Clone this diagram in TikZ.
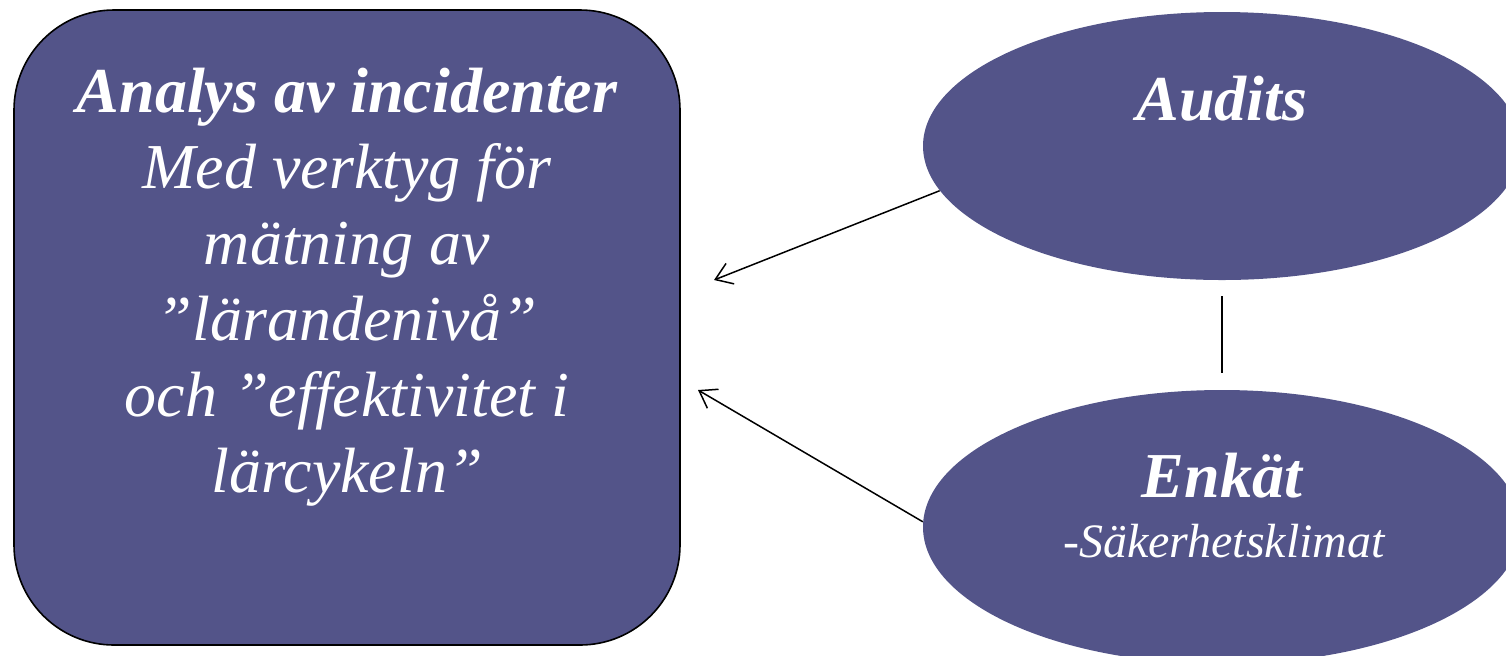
\documentclass[tikz,border=0pt]{standalone}
\usepackage{fontspec}
\setmainfont{Liberation Serif}
\usetikzlibrary{shapes.geometric,arrows.meta}
\definecolor{boxfill}{RGB}{83,84,137}
\begin{document}
\begin{tikzpicture}[x=0.5pt,y=-0.5pt,
  boxshape/.style={draw=black,line width=0.8pt,fill=boxfill,rounded corners=50pt,minimum width=333pt,minimum height=317.5pt,inner sep=0pt},
  ovalshape/.style={ellipse,fill=boxfill,minimum width=299pt,minimum height=134pt,inner sep=0pt},
  bigtxt/.style={text=white,font=\fontsize{32}{38}\selectfont\itshape,align=center,inner sep=0pt},
  smalltxt/.style={text=white,font=\fontsize{24}{28}\selectfont\itshape,inner sep=0pt},
  conn/.style={line width=0.75pt,draw=black},
  arr/.style={conn,-{Straight Barb[length=8pt,width=11pt]}}
]
\useasboundingbox (0,0) rectangle (1506,655);
\clip (0,0) rectangle (1506,655);
\node[boxshape] (box) at (347,327.5) {};
\node[ovalshape] (audits) at (1222,146) {};
\node[ovalshape,minimum height=137pt] (enkat) at (1222,527) {};
\node[bigtxt,anchor=base] (boxtext) at (347,492) {\textbf{Analys av incidenter}\\Med verktyg för\\mätning av\\”lärandenivå”\\och ”effektivitet i\\lärcykeln”};
\node[bigtxt,anchor=base] (auditstext) at (1222,120) {\textbf{Audits}};
\node[bigtxt,anchor=base] (enkattext) at (1222,497) {\textbf{Enkät}};
\node[smalltxt,anchor=base] (sakertext) at (1224,557) {-Säkerhetsklimat};
\coordinate (a1) at (714,280);
\coordinate (a2) at (698,390);
\draw[arr] (audits.189) -- (a1);
\draw[arr] (enkat.179) -- (a2);
\draw[conn,shorten <=8pt,shorten >=8.5pt] (audits.south) -- (enkat.north);
\end{tikzpicture}
\end{document}
